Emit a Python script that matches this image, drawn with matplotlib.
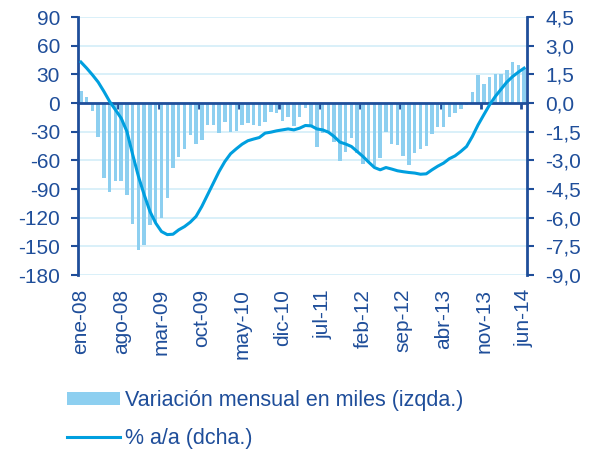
import numpy as np
import matplotlib
matplotlib.use("Agg")
import matplotlib.pyplot as plt
from matplotlib.ticker import FuncFormatter
from matplotlib.patches import Patch
from matplotlib.lines import Line2D

plt.rcParams['font.family'] = ['Liberation Sans', 'DejaVu Sans']
plt.rcParams['axes.unicode_minus'] = False

### Monthly data, ene-08 .. jun-14 (78 months)
variacion_mensual = [13, 6, -8, -35, -78, -93, -82, -81, -96, -127,
                     -154, -149, -128, -124, -120, -99, -68, -56, -48, -33,
                     -43, -39, -23, -23, -31, -20, -30, -29, -23, -21,
                     -23, -24, -20, -9, -10, -19, -15, -24, -14, -5,
                     -23, -46, -31, -29, -41, -61, -51, -36, -52, -64,
                     -62, -66, -57, -30, -43, -44, -55, -65, -52, -48,
                     -45, -32, -25, -25, -15, -10, -6, -2, 12, 29,
                     20, 27, 30, 30, 35, 43, 40, 37]
tasa_aa = [2.15, 1.83, 1.48, 1.10, 0.61, 0.08, -0.35, -0.79, -1.49, -2.70,
           -3.84, -4.80, -5.67, -6.28, -6.72, -6.88, -6.86, -6.63, -6.46, -6.23,
           -5.93, -5.41, -4.80, -4.19, -3.58, -3.06, -2.65, -2.39, -2.15, -1.97,
           -1.88, -1.80, -1.57, -1.52, -1.45, -1.40, -1.35, -1.40, -1.31, -1.17,
           -1.19, -1.35, -1.40, -1.52, -1.75, -2.04, -2.14, -2.27, -2.53, -2.79,
           -3.09, -3.37, -3.49, -3.37, -3.45, -3.54, -3.59, -3.63, -3.66, -3.72,
           -3.70, -3.49, -3.30, -3.14, -2.91, -2.76, -2.53, -2.27, -1.75, -1.14,
           -0.61, -0.09, 0.35, 0.73, 1.10, 1.39, 1.62, 1.83]
etiquetas = ['ene-08', 'ago-08', 'mar-09', 'oct-09', 'may-10', 'dic-10',
             'jul-11', 'feb-12', 'sep-12', 'abr-13', 'nov-13', 'jun-14']
paso = 7

azul_osc = '#1F4E9A'
azul_barra = '#8DCFF0'
azul_linea = '#009FDF'
gris_grid = '#D3EDF8'
fs = 15

x = np.arange(len(variacion_mensual))

fig = plt.figure(figsize=(5.97, 4.51), dpi=100)
ax = fig.add_axes([0.1307, 0.390, 0.752, 0.572])

ax.bar(x, variacion_mensual, width=0.6, color=azul_barra, zorder=2)
ax.set_xlim(-0.5, len(x) - 0.5)
ax.set_ylim(-180, 90)
ax.set_yticks(np.arange(-180, 91, 30))
ax.grid(axis='y', color=gris_grid, linewidth=1.2, zorder=0)
ax.set_axisbelow(True)

# zero line acts as x axis, ticks at month boundaries
ax.spines['bottom'].set_position(('data', 0))
ax.spines['bottom'].set_color(azul_osc)
ax.spines['bottom'].set_linewidth(2)
ax.spines['bottom'].set_zorder(3)
ax.spines['top'].set_visible(False)
ax.spines['right'].set_visible(False)
ax.spines['left'].set_color(azul_osc)
ax.spines['left'].set_linewidth(2)
ax.set_xticks(x[paso::paso] - 0.5)
ax.tick_params(axis='x', direction='out', length=4, width=2, color=azul_osc,
               labelbottom=False)
ax.tick_params(axis='y', direction='out', length=5, width=1.5, color=azul_osc,
               labelcolor=azul_osc, labelsize=fs, pad=8)

# month labels at the bottom of the plot
sec = ax.secondary_xaxis('bottom')
sec.set_xticks(x[::paso], etiquetas, rotation=90)
sec.tick_params(length=0, pad=10, labelcolor=azul_osc, labelsize=fs)
sec.spines['bottom'].set_visible(False)

ax2 = ax.twinx()
ax2.plot(x, tasa_aa, color=azul_linea, linewidth=2.2)
ax2.set_ylim(-9, 4.5)
ax2.set_yticks(np.arange(-9, 4.6, 1.5))
ax2.yaxis.set_major_formatter(FuncFormatter(lambda v, p: f"{v:.1f}".replace('.', ',')))
for s in ['top', 'bottom', 'left']:
    ax2.spines[s].set_visible(False)
ax2.spines['right'].set_color(azul_osc)
ax2.spines['right'].set_linewidth(2)
ax2.tick_params(axis='y', direction='out', length=5, width=1.5, color=azul_osc,
                labelcolor=azul_osc, labelsize=fs, pad=8)

handles = [Patch(facecolor=azul_barra, edgecolor='none'),
           Line2D([0], [0], color=azul_linea, linewidth=2.2)]
labels = ['Variación mensual en miles (izqda.)', '% a/a (dcha.)']
leg = fig.legend(handles, labels, loc='center left', bbox_to_anchor=(0.113, 0.070),
                 frameon=False, fontsize=15.5, handlelength=2.45, handleheight=0.55,
                 handletextpad=0.2, labelspacing=0.8, borderpad=0, borderaxespad=0)
for t in leg.get_texts():
    t.set_color(azul_osc)

plt.savefig('out.png', dpi=100)
